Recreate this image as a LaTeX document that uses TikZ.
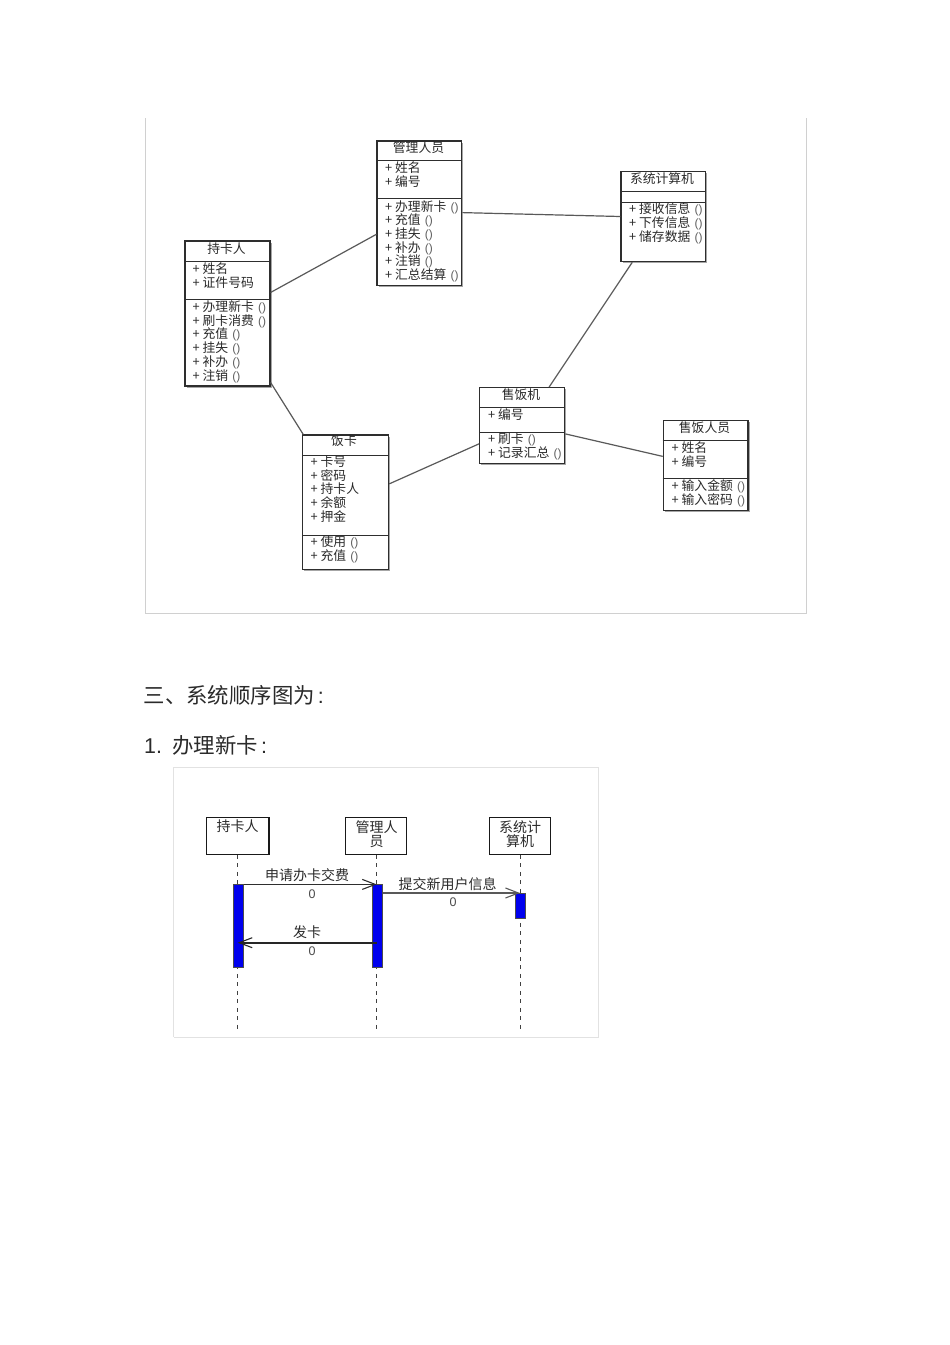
\documentclass[tikz,border=0pt]{standalone}
\usepackage{fontspec}
\setmainfont{Liberation Sans}
\newfontfamily\cjk{Noto Sans CJK SC}
\usetikzlibrary{arrows.meta,shadows}
\definecolor{ink}{HTML}{2A2A2A}
\definecolor{rule}{HTML}{2E2E2E}
\definecolor{framec}{HTML}{D0D0D0}
\definecolor{framelight}{HTML}{E2E2E2}
\definecolor{actblue}{HTML}{0000EE}
\newcommand{\emptyparens}{\hspace{4.2pt}{\rmfamily\fontsize{12}{12}\selectfont\color{black!62}()}}
\tikzset{
  classbox/.style={draw=rule,line width=1.15pt,fill=white,inner sep=0pt,
    general shadow={fill=black!35,shadow xshift=1.6pt,shadow yshift=-1.6pt}},
  classsep/.style={draw=rule,line width=1pt},
  assoc/.style={draw=black!65,line width=1.2pt},
  classtitle/.style={font=\cjk\fontsize{12.8}{13.7}\selectfont,text=ink,inner sep=0pt},
  rowtext/.style={font=\cjk\fontsize{12.8}{13.72}\selectfont,text=ink,inner sep=0pt,anchor=north west,align=left},
  framepath/.style={draw=framec,line width=1pt},
  framelite/.style={draw=framelight,line width=1pt},
  heading/.style={font=\cjk\fontsize{21.4}{24}\selectfont,text=ink,inner sep=0pt,anchor=west},
  lifebox/.style={draw=black!90,line width=1.4pt,fill=white,inner sep=0pt,minimum height=36.5pt},
  lifetext/.style={font=\cjk\fontsize{14}{14.4}\selectfont,text=ink,inner sep=0pt,align=center,anchor=north},
  lifeline/.style={draw=black!75,line width=.9pt,dash pattern=on 4pt off 4.5pt},
  activation/.style={draw=black!70,line width=.6pt,fill=actblue,inner sep=0pt,minimum width=10pt},
  msg/.style={draw=rule,line width=1pt,-{Straight Barb[length=13pt,width=10pt,line width=1.1pt]}},
  msglabel/.style={font=\cjk\fontsize{14}{14}\selectfont,text=ink,inner sep=0pt},
  msgzero/.style={font=\fontsize{12.5}{12.5}\selectfont,text=black!70,inner sep=0pt},
}
\begin{document}
\begin{tikzpicture}[x=1pt,y=-1pt]
\useasboundingbox[fill=white] (0,0) rectangle (950,1345);

% frames of the two screenshots
\coordinate (fa) at (145,118);
\coordinate (fb) at (145,613.5);
\coordinate (fc) at (806.5,613.5);
\coordinate (fd) at (806.5,118);
\draw[framepath] (fa) -- (fb) -- (fc) -- (fd);
\coordinate (ga) at (173.5,1037);
\coordinate (gb) at (173.5,767);
\coordinate (gc) at (598.5,767);
\coordinate (gd) at (598.5,1037);
\draw[framelite] (ga) -- (gb) -- (gc) -- (gd) -- (ga);

% class boxes
\node[classbox,minimum width=85pt,minimum height=145pt] (chi) at (227.5,313.5) {};
\node[classbox,minimum width=84.7pt,minimum height=144.7pt] (guan) at (419.35,213.35) {};
\node[classbox,minimum width=84.3pt,minimum height=90.4pt] (xi) at (663.15,216.5) {};
\node[classbox,minimum width=85pt,minimum height=75.6pt] (ji) at (522.2,425.5) {};
\node[classbox,minimum width=84.7pt,minimum height=89.6pt] (ren) at (705.65,465.5) {};
\node[classbox,minimum width=86pt,minimum height=134.7pt] (ka) at (345.7,502.35) {};

% associations
\draw[assoc] (chi.26.8) -- (guan.206.5);
\draw[assoc] (guan.1) -- (xi.180);
\draw[assoc] (xi.236.7) -- (ji.55.7);
\draw[assoc] (chi.-58.5) -- (ka.122.6);
\draw[assoc] (ka.23.1) -- (ji.203.5);
\draw[assoc] (ji.-11.3) -- (ren.168.7);

% compartments
\draw[classsep] (chi.west |- 0,261.3) -- (chi.east |- 0,261.3);
\draw[classsep] (chi.west |- 0,299.3) -- (chi.east |- 0,299.3);
\draw[classsep] (guan.west |- 0,160.7) -- (guan.east |- 0,160.7);
\draw[classsep] (guan.west |- 0,198.7) -- (guan.east |- 0,198.7);
\draw[classsep] (xi.west |- 0,191) -- (xi.east |- 0,191);
\draw[classsep] (xi.west |- 0,202) -- (xi.east |- 0,202);
\draw[classsep] (ji.west |- 0,407.7) -- (ji.east |- 0,407.7);
\draw[classsep] (ji.west |- 0,432) -- (ji.east |- 0,432);
\draw[classsep] (ren.west |- 0,440.3) -- (ren.east |- 0,440.3);
\draw[classsep] (ren.west |- 0,478.3) -- (ren.east |- 0,478.3);
\draw[classsep] (ka.west |- 0,455.3) -- (ka.east |- 0,455.3);
\draw[classsep] (ka.west |- 0,535) -- (ka.east |- 0,535);

% class texts
\node[classtitle] (chit) at (226.5,249) {持卡人};
\node[rowtext] (chia) at (192.5,262.5) {+ 姓名\\+ 证件号码};
\node[rowtext] (chio) at (192.5,300.5) {+ 办理新卡\emptyparens\\+ 刷卡消费\emptyparens\\+ 充值\emptyparens\\+ 挂失\emptyparens\\+ 补办\emptyparens\\+ 注销\emptyparens};

\node[classtitle] (guant) at (418.5,147.7) {管理人员};
\node[rowtext] (guana) at (385,162) {+ 姓名\\+ 编号};
\node[rowtext] (guano) at (385,200) {+ 办理新卡\emptyparens\\+ 充值\emptyparens\\+ 挂失\emptyparens\\+ 补办\emptyparens\\+ 注销\emptyparens\\+ 汇总结算\emptyparens};

\node[classtitle] (xit) at (662,178.3) {系统计算机};
\node[rowtext] (xio) at (629,202.7) {+ 接收信息\emptyparens\\+ 下传信息\emptyparens\\+ 储存数据\emptyparens};

\node[classtitle] (jit) at (521,394.3) {售饭机};
\node[rowtext] (jia) at (488,408) {+ 编号};
\node[rowtext] (jio) at (488,433) {+ 刷卡\emptyparens\\+ 记录汇总\emptyparens};

\node[classtitle] (rent) at (704.5,427.3) {售饭人员};
\node[rowtext] (rena) at (671.5,441.4) {+ 姓名\\+ 编号};
\node[rowtext] (reno) at (671.5,479.7) {+ 输入金额\emptyparens\\+ 输入密码\emptyparens};

\node[classtitle] (kat) at (344,441) {饭卡};
\node[rowtext] (kaa) at (310.5,455.4) {+ 卡号\\+ 密码\\+ 持卡人\\+ 余额\\+ 押金};
\node[rowtext] (kao) at (310.5,535.4) {+ 使用\emptyparens\\+ 充值\emptyparens};

% headings
\node[heading] (h3) at (143.5,695.5) {三、系统顺序图为\hspace{3pt}{\rmfamily :}};
\node[heading] (h1) at (144,745.5) {{\rmfamily 1.}\hspace{10.5pt}办理新卡\hspace{3pt}{\rmfamily :}};

% sequence diagram
\node[lifebox,minimum width=62.3pt] (p1) at (237.85,836) {};
\node[lifebox,minimum width=61pt] (p2) at (376.2,836) {};
\node[lifebox,minimum width=61.4pt] (p3) at (520,836) {};
\coordinate (p1end) at (237.7,1032);
\coordinate (p2end) at (376.8,1032);
\coordinate (p3end) at (520,1032);
\draw[lifeline] (p1.south -| p1end) -- (p1end);
\draw[lifeline] (p2.south -| p2end) -- (p2end);
\draw[lifeline] (p3.south -| p3end) -- (p3end);

\node[lifetext] (p1t) at (237.5,819.5) {持卡人};
\node[lifetext] (p2t) at (376.5,820.5) {管理人\\员};
\node[lifetext] (p3t) at (520,820.5) {系统计\\算机};

\node[activation,minimum height=82.3pt] (a1) at (238.5,925.85) {};
\node[activation,minimum height=82.3pt] (a2) at (377.7,925.85) {};
\node[activation,minimum height=25pt] (a3) at (520.7,905.8) {};

\coordinate (m3) at (300,942.7);
\draw[msg] (a1.north east) -- (a2.north -| p2end);
\draw[msg,line width=1.3pt,draw=black!65] (a2.east |- a3.north) -- (a3.north -| p3end);
\draw[msg,line width=1.6pt,draw=black!85] (m3 -| p2end) -- (m3 -| p1end);

\node[msglabel] (l1) at (307,875) {申请办卡交费};
\node[msgzero] (z1) at (312,894) {0};
\node[msglabel] (l2) at (447.5,884) {提交新用户信息};
\node[msgzero] (z2) at (453,902.3) {0};
\node[msglabel] (l3) at (307,931.7) {发卡};
\node[msgzero] (z3) at (312,950.7) {0};
\end{tikzpicture}
\end{document}
